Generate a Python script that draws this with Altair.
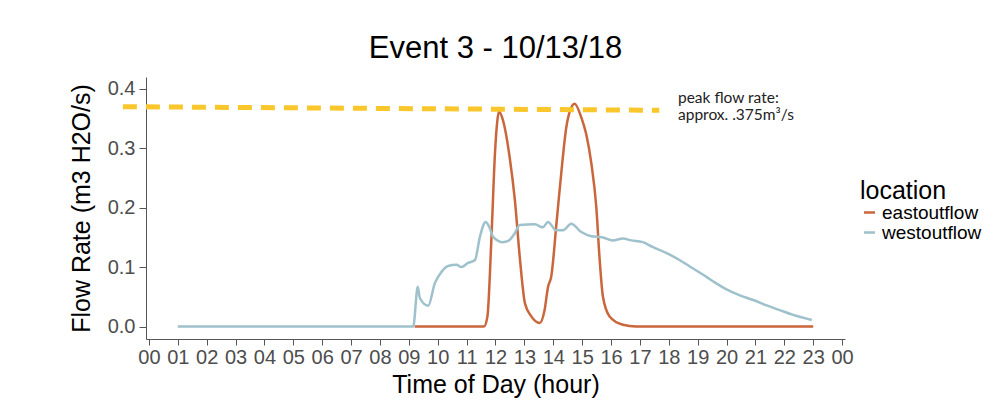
import altair as alt
import pandas as pd

# ---- data ----
west_hour = [1.0, 9.15, 9.31, 9.38, 9.67, 9.90, 10.13, 10.36, 10.65, 10.82, 11.05, 11.29,
             11.46, 11.66, 11.78, 11.92, 12.26, 12.44, 12.67, 12.84, 13.36, 13.64, 13.82,
             14.10, 14.34, 14.62, 14.97, 15.32, 15.72, 16.06, 16.41, 16.70, 17.10, 17.44,
             17.91, 18.37, 18.83, 19.29, 19.63, 19.98, 20.44, 20.90, 21.36, 21.82, 22.28, 22.95]
west_flow = [0.0, 0.0, 0.067, 0.048, 0.035, 0.073, 0.092, 0.102, 0.104, 0.100, 0.107, 0.112,
             0.151, 0.176, 0.168, 0.151, 0.142, 0.144, 0.157, 0.171, 0.172, 0.167, 0.176,
             0.162, 0.162, 0.173, 0.159, 0.152, 0.150, 0.145, 0.148, 0.145, 0.142, 0.134,
             0.124, 0.112, 0.098, 0.084, 0.073, 0.063, 0.053, 0.045, 0.036, 0.028, 0.020, 0.011]

east_hour = [9.2, 11.60, 11.72, 11.86, 11.98, 12.06, 12.12, 12.26, 12.49, 12.67, 12.84, 13.02,
             13.24, 13.53, 13.70, 13.82, 13.93, 14.11, 14.28, 14.45, 14.60, 14.74, 14.97,
             15.14, 15.32, 15.49, 15.60, 15.72, 15.95, 16.41, 16.87, 23.0]
east_flow = [0.0, 0.0, 0.017, 0.150, 0.290, 0.345, 0.362, 0.347, 0.285, 0.213, 0.117, 0.039,
             0.017, 0.006, 0.028, 0.067, 0.084, 0.173, 0.260, 0.335, 0.366, 0.375, 0.352,
             0.324, 0.274, 0.201, 0.117, 0.050, 0.017, 0.003, 0.0, 0.0]

peak_hour = [-0.9, 17.67]
peak_flow = [0.370, 0.364]

locations = ["eastoutflow", "westoutflow"]
colors = ["#CA663B", "#9EC1CC"]
tick_hours = list(range(25))
y_ticks = [0.0, 0.1, 0.2, 0.3, 0.4]
note_lines = ["peak flow rate:", "approx. .375m\u00b3/s"]

df = pd.concat([
    pd.DataFrame({"hour": east_hour, "flow": east_flow, "location": "eastoutflow", "order": range(len(east_hour))}),
    pd.DataFrame({"hour": west_hour, "flow": west_flow, "location": "westoutflow", "order": range(len(west_hour))}),
])
peak_df = pd.DataFrame({"hour": peak_hour, "flow": peak_flow})

FONT = "Liberation Sans"

x_scale = alt.Scale(domain=[-0.1, 24.1], nice=False, zero=False)
y_scale = alt.Scale(domain=[-0.021, 0.42], nice=False, zero=False)

x_axis = alt.Axis(
    values=tick_hours,
    labelExpr="(datum.value % 24) < 10 ? '0' + (datum.value % 24) : '' + (datum.value % 24)",
    title="Time of Day (hour)", grid=False, labelFontSize=20, titleFontSize=25,
    labelColor="#4D4D4D", titleColor="#000000", domainColor="#555555", tickColor="#555555",
    tickSize=6, labelPadding=2, titlePadding=5, labelFont=FONT, titleFont=FONT,
    titleFontWeight="normal", labelOverlap=False, labelBound=False, labelFlush=False,
)
y_axis = alt.Axis(
    values=y_ticks, format=".1f", title="Flow Rate (m3 H2O/s)", grid=False,
    labelFontSize=20, titleFontSize=25, labelColor="#4D4D4D", titleColor="#000000",
    domainColor="#555555", tickColor="#555555", tickSize=7, labelPadding=4, titlePadding=13,
    labelFont=FONT, titleFont=FONT, titleFontWeight="normal",
)

lines = alt.Chart(df).mark_line(strokeWidth=2.5, interpolate="monotone").encode(
    x=alt.X("hour:Q", scale=x_scale, axis=x_axis),
    y=alt.Y("flow:Q", scale=y_scale, axis=y_axis),
    color=alt.Color("location:N", scale=alt.Scale(domain=locations, range=colors),
                    legend=alt.Legend(
                        title="location", orient="none", legendX=714, legendY=102,
                        titleFontSize=25, titleFont=FONT, titleFontWeight="normal",
                        titleColor="#000000", labelFontSize=19, labelFont=FONT,
                        labelColor="#000000", symbolType="stroke", symbolSize=121,
                        symbolStrokeWidth=2.5, rowPadding=0, titlePadding=-1,
                        labelOffset=3, symbolOffset=0)),
    order="order:Q",
)

peak = alt.Chart(peak_df).mark_line(
    color="#F9C62B", strokeWidth=5, strokeDash=[14, 9], strokeCap="butt"
).encode(
    x=alt.X("hour:Q", scale=x_scale, axis=x_axis),
    y=alt.Y("flow:Q", scale=y_scale, axis=y_axis),
)

note = alt.Chart(pd.DataFrame({"t": [0]})).mark_text(
    text=note_lines, align="left", baseline="middle",
    font="Lato", fontSize=15.5, color="#222222", lineHeight=17,
).encode(x=alt.value(532), y=alt.value(21))

chart = alt.layer(lines, peak, note).properties(
    width=699, height=262,
    title=alt.TitleParams("Event 3 - 10/13/18", fontSize=31, font=FONT,
                          fontWeight="normal", color="#000000", offset=12),
    autosize=alt.AutoSizeParams(type="none"),
    padding={"left": 138, "top": 69, "right": 143, "bottom": 62},
).configure_view(stroke=None)

chart.save("out.html", embed_options={"renderer": "svg", "actions": False})
